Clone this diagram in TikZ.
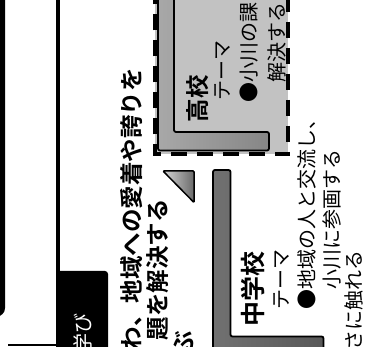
\documentclass[tikz,border=0pt]{standalone}
\usepackage{fontspec}
\newfontfamily\jp{Noto Sans CJK JP}[BoldFont={Noto Sans CJK JP Bold}]
\definecolor{boxgray}{HTML}{C2C2C2}
\definecolor{hsl}{HTML}{A8A8A8}
\definecolor{hsr}{HTML}{868686}
\definecolor{msl}{HTML}{717171}
\definecolor{msr}{HTML}{585858}
\definecolor{tril}{HTML}{D6D6D6}
\definecolor{trir}{HTML}{6A6A6A}
\begin{document}
\begin{tikzpicture}[x=1pt,y=-1pt,
  vtxt/.style={rotate=90, inner sep=0pt, font=\jp\fontsize{20}{20}\selectfont},
  btxt/.style={rotate=90, inner sep=0pt, font=\jp\bfseries\fontsize{23.5}{24}\selectfont},
  dashline/.style={line width=4, dash pattern=on 16pt off 10pt},
  stepbar/.style={line width=1.8, rounded corners=2}]
\useasboundingbox (0,0) rectangle (386,347);
% left frames
\draw[line width=5, rounded corners=6] (2.5,-20) -- (2.5,314) -- (-40,314);
\fill[rounded corners=3] (57,380) -- (57,271) -- (108,271) -- (108,380) -- cycle;
\draw[line width=4.5] (58,-20) -- (58,360);
\draw[line width=2] (8,345) -- (58,345);
\node[vtxt, text=white, anchor=east, font=\jp\fontsize{20}{20}\selectfont] (manabi) at (83,313) {学び};
% high school box
\fill[boxgray] (154.5,-30) rectangle (288,154.5);
\draw[dashline] (288,-30) -- (288,154.5) -- (154.5,154.5) -- (154.5,-30);
\draw[stepbar, left color=hsl, right color=hsr] (158,-30) -- (158,150.5) -- (269,150.5) -- (269,132) -- (174,132) -- (174,-30) -- cycle;
% triangle
\draw[line width=1.5, rounded corners=1, left color=tril, right color=trir] (163,171) -- (194,171) -- (194,202.5) -- cycle;
% middle school step
\draw[stepbar, left color=msl, right color=msr] (213,380) -- (213,170) -- (230.5,170) -- (230.5,336.5) -- (323.5,336.5) -- (323.5,380) -- cycle;
% main texts
\node[btxt, anchor=east] (t1) at (131.5,68) {わ、地域への愛着や誇りを};
\node[btxt, anchor=east] (t2) at (157.5,199) {題を解決する};
\node[btxt, anchor=east] (t3) at (184,331) {ぶ};
% high school texts
\node[btxt, anchor=east] (hs) at (198,75) {高校};
\node[vtxt, anchor=west] (hst) at (223,101) {テーマ};
\node[vtxt, anchor=west] (hs1) at (249.5,103) {●小川の課};
\node[vtxt, anchor=west] (hs2) at (276.5,83) {解決する};
% middle school texts
\node[btxt, anchor=west, font=\jp\bfseries\fontsize{25}{25}\selectfont] (ms) at (252.5,327) {中学校};
\node[vtxt, anchor=west] (mst) at (281.5,310) {テーマ};
\node[vtxt, anchor=west] (ms1) at (306.5,310) {●地域の人と交流し、};
\node[vtxt, anchor=west] (ms2) at (332,290) {小川に参画する};
\node[vtxt, anchor=east] (ms3) at (354,250) {さに触れる};
\end{tikzpicture}
\end{document}
